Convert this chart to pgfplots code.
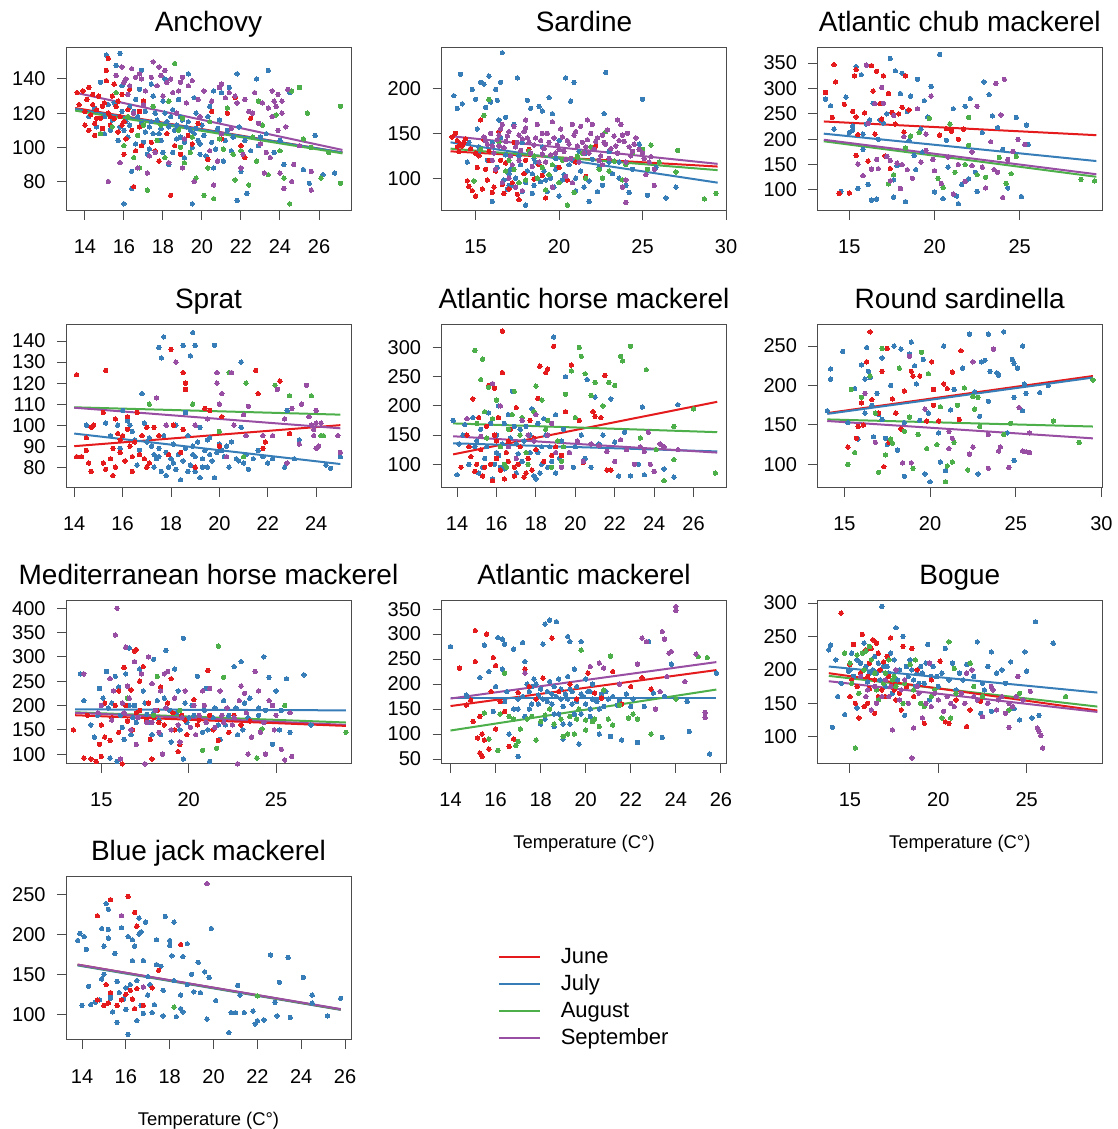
\documentclass[border=0pt]{standalone}
\usepackage{pgfplots}
\pgfplotsset{compat=1.18}
\usepackage{fontspec}
\setmainfont{Liberation Sans}
\definecolor{cJun}{HTML}{E41A1C}
\definecolor{cJul}{HTML}{377EB8}
\definecolor{cAug}{HTML}{4DAF4A}
\definecolor{cSep}{HTML}{984EA3}
\pgfplotsset{
 panel/.style={anchor=south west, scale only axis, width=142.5pt, height=81.75pt,
  axis line style={black!70, line width=0.5pt},
  every tick/.style={black!70, line width=0.5pt},
  major tick length=4.5pt, tick align=outside,
  xtick pos=left, ytick pos=left,
  /pgf/number format/assume math mode=true,
  tick label style={font=\fontsize{10}{12}\selectfont},
  xticklabel style={anchor=base, yshift=-17pt},
  yticklabel style={anchor=east, inner sep=0pt, xshift=-5.5pt},
  title style={at={(0.5,1)}, anchor=base, yshift=2pt, font=\fontsize{14}{16}\selectfont},
  xlabel style={at={(axis description cs:0.5,0)}, anchor=base, yshift=-42.5pt, font=\fontsize{9.2}{11}\selectfont},
 },
 jun/.style={only marks, mark=*, mark size=1.1pt, color=cJun, mark options={line width=0pt}},
 jul/.style={only marks, mark=*, mark size=1.1pt, color=cJul, mark options={line width=0pt}},
 aug/.style={only marks, mark=*, mark size=1.1pt, color=cAug, mark options={line width=0pt}},
 sep/.style={only marks, mark=*, mark size=1.1pt, color=cSep, mark options={line width=0pt}},
 ljun/.style={no marks, color=cJun, line width=1pt},
 ljul/.style={no marks, color=cJul, line width=1pt},
 laug/.style={no marks, color=cAug, line width=1pt},
 lsep/.style={no marks, color=cSep, line width=1pt},
 legline/.style={legend image code/.code={\draw[draw=#1, line width=0.8pt] (0pt,0pt) -- (20.5pt,0pt); \path[draw=none] (31pt,0pt) circle (0pt);}},
}
\begin{document}
\begin{tikzpicture}
\useasboundingbox (0,0) rectangle (559pt,564.5pt);
% ---------------- Anchovy
\begin{axis}[panel, at={(33pt,459pt)}, title={Anchovy}, xmin=13.03, xmax=27.64, ymin=62.8, ymax=158.4, xtick={14,16,...,26}, ytick={80,100,120,140}]
\addplot[jul] coordinates {(14.5,123)(14.8,138)(15.0,118)(15.1,154)(15.3,110)(15.5,126)(15.6,148)(15.8,155)(15.9,136)(16.0,67)(16.1,115)(16.2,106)(16.4,86)(16.4,76)(16.6,128)(16.7,118)(16.9,145)(17.0,103)(17.2,96)(17.3,112)(17.5,130)(17.6,120)(17.8,108)(18.0,97)(18.1,140)(18.2,115)(18.3,90)(18.5,122)(18.6,110)(18.7,105)(18.8,128)(18.9,100)(19.0,116)(19.1,94)(19.2,112)(19.3,143)(19.5,67)(19.6,108)(19.7,120)(19.9,102)(20.0,113)(20.2,95)(20.4,124)(20.6,88)(20.8,111)(21.0,132)(21.2,104)(21.5,98)(21.8,143)(21.8,69)(22.0,86)(22.3,73)(22.8,140)(23.0,106)(23.4,145)(24.2,90)(24.5,132)(25.2,87)(25.5,79)(25.8,107)(26.2,84)(26.8,85)(17.4,115)(18.4,118)(19.4,110)(17.9,111)(16.3,113)(15.8,112)(18.9,106)(19.8,104)(17.1,109)(16.5,121)
(14.2,118)(14.6,112)(15.0,108)(15.2,125)(15.4,116)(15.7,104)(15.9,121)(16.0,110)(16.3,124)(16.6,102)(16.9,114)(17.1,121)(17.3,99)(17.5,108)(17.7,116)(17.9,104)(18.1,120)(18.3,112)(18.5,97)(18.7,113)(18.9,118)(19.1,103)(19.3,115)(19.5,100)(19.7,111)(19.9,96)(20.1,107)(20.3,118)(20.5,103)(20.7,99)(20.9,116)(21.1,92)(21.3,110)(21.6,106)(21.9,112)(22.2,104)(22.5,98)(22.9,101)(23.3,108)(23.7,97)(24.0,104)(16.8,134)(17.4,137)(18.0,127)(19.6,129)(20.6,133)(21.4,135)};
\addplot[jun] coordinates {(13.6,132)(13.9,133)(14.1,128)(14.2,135)(14.4,125)(14.3,119)(14.5,114)(14.6,122)(14.7,130)(14.8,117)(14.9,111)(15.0,126)(15.1,139)(15.1,145)(15.2,152)(15.2,120)(15.3,113)(15.4,130)(15.5,137)(15.6,124)(15.7,109)(15.8,118)(15.9,131)(16.0,96)(16.1,105)(16.2,122)(16.3,134)(16.5,77)(16.6,98)(16.8,112)(17.0,127)(17.4,103)(17.8,92)(18.2,108)(18.4,72)(18.6,101)(18.9,96)(19.3,107)(19.8,114)(20.3,93)(20.5,121)(21.0,105)(21.3,120)(21.7,129)(22.0,101)(22.5,117)(22.2,94)(14.0,113)(14.8,108)(15.5,117)(16.8,121)
(13.7,125)(14.0,121)(14.2,110)(14.4,131)(14.6,117)(14.9,124)(15.3,118)(15.7,127)(16.0,115)(16.4,110)(16.9,101)(17.6,98)(18.8,110)(19.5,102)(14.5,107)(15.9,113)};
\addplot[aug] coordinates {(14.8,108)(15.2,80)(15.6,132)(16.0,101)(16.5,94)(16.8,88)(17.2,75)(17.5,124)(17.9,113)(18.3,127)(18.6,149)(18.9,100)(19.1,91)(19.4,97)(19.7,82)(20.1,72)(20.3,88)(20.6,70)(20.9,105)(21.3,123)(21.7,81)(22.0,98)(22.4,78)(22.6,106)(22.9,127)(23.4,84)(23.8,119)(24.2,82)(24.5,67)(24.6,133)(25.0,135)(25.4,120)(25.6,100)(26.1,82)(27.1,124)(27.1,79)(17.0,113)(19.0,117)
(15.4,112)(16.2,118)(16.7,107)(17.7,104)(18.1,94)(18.8,110)(19.5,106)(20.4,115)(21.1,99)(21.6,96)(22.8,92)(23.1,113)(24.0,98)(25.2,105)(26.5,97)};
\addplot[sep] coordinates {(15.2,80)(15.6,142)(16.0,138)(16.2,131)(16.4,146)(16.7,88)(16.9,140)(17.0,125)(17.3,95)(17.5,150)(17.7,136)(17.9,142)(18.1,145)(18.3,91)(18.5,132)(18.7,120)(18.9,138)(19.1,105)(19.3,136)(19.6,80)(19.8,128)(20.1,133)(20.4,98)(20.6,78)(20.9,135)(21.2,129)(21.5,111)(21.8,126)(22.1,96)(22.4,121)(22.7,132)(23.0,102)(23.3,97)(23.5,94)(23.6,133)(23.8,124)(23.9,110)(24.0,85)(24.1,120)(24.2,76)(24.4,134)(24.7,90)(25.0,101)(25.6,75)(25.6,86)(16.5,120)(17.6,97)(19.9,118)(21.0,108)(22.9,114)(23.7,127)(15.8,91)(16.6,141)(18.2,138)(19.0,141)(20.5,127)
(15.9,147)(16.1,140)(16.3,136)(16.8,143)(17.1,133)(17.4,141)(17.8,147)(18.0,130)(18.4,140)(18.8,133)(19.2,126)(19.5,139)(21.0,137)(21.4,132)(21.7,130)(22.2,128)(22.6,120)(23.1,126)(23.4,123)(23.6,118)(23.9,131)(24.1,127)(24.3,112)(22.0,88)(23.2,85)(24.6,80)(19.0,88)(17.2,85)(20.8,92)};
\addplot[ljun] coordinates {(13.5,123)(27.2,97)};
\addplot[ljul] coordinates {(13.5,122.5)(27.2,97)};
\addplot[laug] coordinates {(13.5,121.5)(27.2,96.5)};
\addplot[lsep] coordinates {(13.5,132)(27.2,98.5)};
\end{axis}
% ---------------- Sardine
\begin{axis}[panel, at={(220.75pt,459pt)}, title={Sardine}, xmin=12.96, xmax=30.03, ymin=63.4, ymax=245.9, xtick={15,20,25,30}, ytick={100,150,200}]
\addplot[jul] coordinates {(13.7,192)(13.9,178)(14.1,216)(14.2,183)(14.5,118)(14.8,199)(15.0,188)(15.1,155)(15.3,207)(15.5,205)(15.6,179)(15.8,214)(15.9,185)(16.0,74)(16.2,199)(16.3,187)(16.4,165)(16.5,207)(16.6,240)(16.7,98)(16.8,168)(17.0,105)(17.3,160)(17.5,212)(17.8,85)(18.0,70)(18.1,187)(18.3,178)(18.5,92)(18.8,180)(19.0,175)(19.2,98)(19.4,190)(19.6,172)(19.8,110)(20.0,80)(20.4,212)(20.7,186)(20.9,207)(21.2,130)(21.5,90)(21.8,74)(22.0,121)(22.3,85)(22.7,172)(22.8,218)(23.2,105)(23.6,118)(24.2,84)(24.8,138)(25.0,188)(25.3,81)(25.8,112)(26.4,78)(27.0,90)(17.6,125)(18.6,118)(19.8,122)(20.6,115)(16.0,140)(18.0,95)(21.0,100)(23.0,130)(24.4,110)(17.2,92)(19.3,85)(18.4,105)(20.2,98)(16.9,88)
(15.2,130)(15.7,120)(16.3,112)(16.8,126)(17.1,110)(17.4,100)(17.7,115)(18.1,108)(18.5,122)(18.9,96)(19.1,108)(19.5,100)(19.9,112)(20.3,104)(20.8,120)(21.3,108)(21.8,97)(22.4,112)(23.0,118)(23.6,100)(24.0,92)(17.0,92)(18.4,83)(19.7,90)(21.0,86)(22.6,92)(16.5,145)(17.8,140)(19.0,135)(20.0,142)(21.6,128)(14.6,140)(15.2,135)};
\addplot[jun] coordinates {(13.6,146)(13.9,142)(14.1,138)(14.3,140)(14.5,97)(14.6,91)(14.8,86)(15.0,80)(15.2,125)(15.3,165)(15.4,88)(15.6,110)(15.8,130)(16.0,84)(16.2,108)(16.4,152)(16.6,93)(16.8,117)(17.0,88)(17.3,140)(17.6,76)(17.9,105)(18.2,132)(18.5,99)(18.8,115)(19.2,78)(19.5,126)(20.0,112)(20.5,98)(21.0,118)(21.6,102)(22.2,136)(13.8,150)(14.2,136)(15.5,143)(16.5,120)(17.5,82)(19.0,103)
(14.0,130)(14.4,144)(14.7,133)(15.0,128)(15.1,112)(15.7,98)(16.1,90)(16.7,83)(17.2,95)(18.0,120)(13.9,135)(15.8,120)};
\addplot[aug] coordinates {(14.9,97)(15.5,170)(15.8,188)(16.4,140)(17.0,120)(17.6,95)(18.2,130)(18.7,100)(19.2,87)(19.6,115)(20.0,95)(20.5,70)(20.9,84)(21.4,128)(21.9,135)(22.4,110)(22.8,152)(23.3,119)(23.8,98)(24.4,128)(25.0,132)(25.5,137)(26.0,118)(27.1,131)(27.0,107)(28.7,77)(29.4,83)(16.8,108)(19.0,112)(22.6,100)
(15.3,132)(16.1,128)(17.3,110)(18.5,125)(19.4,104)(20.2,120)(21.1,125)(21.6,100)(23.0,108)(24.0,115)(25.3,110)(18.0,98)};
\addplot[sep] coordinates {(15.5,146)(15.7,138)(15.9,150)(16.1,128)(16.3,143)(16.5,155)(16.7,134)(16.9,147)(17.1,125)(17.3,158)(17.5,140)(17.7,131)(17.9,152)(18.1,145)(18.3,128)(18.5,137)(18.7,160)(18.9,142)(19.1,133)(19.3,150)(19.5,126)(19.7,145)(19.9,137)(20.1,155)(20.3,130)(20.5,142)(20.7,122)(20.9,148)(21.1,136)(21.3,158)(21.5,128)(21.7,143)(21.9,150)(22.1,132)(22.3,145)(22.5,125)(22.7,140)(22.9,154)(23.1,133)(23.3,147)(23.5,128)(23.7,160)(23.9,141)(24.1,150)(24.3,125)(24.5,138)(24.8,132)(25.1,122)(25.4,118)(25.7,110)(16.2,110)(16.6,95)(17.0,100)(17.4,90)(17.8,86)(18.4,113)(19.6,90)(20.4,102)(20.8,95)(23.8,90)(24.0,98)(24.0,73)(25.7,92)(25.2,104)(16.0,120)(17.2,115)(18.8,118)(21.2,118)(22.6,115)(16.4,136)(17.6,148)(18.2,140)(19.0,127)(20.0,132)(21.6,135)(22.8,138)(23.6,142)(24.2,135)
(15.6,142)(16.0,136)(16.4,148)(16.8,141)(17.0,152)(17.4,135)(17.8,144)(18.0,156)(18.6,145)(19.0,150)(19.4,140)(19.8,128)(20.2,146)(20.6,138)(21.0,152)(21.4,140)(21.8,128)(22.2,141)(22.6,148)(23.0,122)(23.4,136)(23.8,148)(24.4,130)(24.6,145)(25.0,128)(25.5,124)(17.6,120)(19.2,118)(20.4,121)(22.4,120)(24.0,118)(18.0,165)(19.6,163)(21.7,165)(23.5,165)(16.6,160)(20.8,160)(22.0,160)};
\addplot[ljun] coordinates {(13.5,130)(29.5,113)};
\addplot[ljul] coordinates {(13.5,140)(29.5,95)};
\addplot[laug] coordinates {(13.5,133)(29.5,109)};
\addplot[lsep] coordinates {(13.5,147)(29.5,116)};
\end{axis}
% ---------------- Atlantic chub mackerel
\begin{axis}[panel, at={(408.65pt,459pt)}, title={Atlantic chub mackerel}, xmin=13.12, xmax=29.85, ymin=58.6, ymax=380.8, xtick={15,20,25,30}, ytick={100,150,...,350}]
\addplot[jul] coordinates {(13.6,279)(13.9,266)(14.1,220)(14.5,97)(14.8,283)(15.0,213)(15.2,226)(15.4,343)(15.5,103)(15.7,327)(15.8,180)(16.0,230)(16.1,111)(16.3,80)(16.4,271)(16.6,82)(16.7,200)(16.8,238)(17.0,232)(17.2,250)(17.4,359)(17.6,86)(17.7,335)(17.8,148)(18.0,290)(18.1,330)(18.3,77)(18.5,197)(18.6,285)(18.8,168)(19.0,318)(19.2,220)(19.4,276)(19.6,244)(19.8,304)(20.0,96)(20.3,367)(20.5,83)(20.7,198)(21.1,260)(21.3,88)(21.4,73)(21.6,111)(21.8,265)(22.1,280)(22.4,135)(22.5,97)(22.8,213)(22.9,313)(23.2,288)(23.4,246)(23.7,223)(24.0,180)(24.3,104)(24.8,243)(25.1,87)(25.4,228)(25.5,190)(17.6,120)(19.3,175)(20.8,145)(18.9,140)(15.8,210)(22.0,122)(16.2,238)(18.4,255)(15.2,218)};
\addplot[jun] coordinates {(13.6,292)(14.1,347)(14.2,313)(14.0,243)(14.4,93)(14.7,269)(15.0,94)(15.2,255)(15.3,325)(15.4,337)(15.4,244)(15.4,168)(15.5,209)(15.9,252)(16.1,157)(16.3,345)(16.4,295)(16.6,334)(16.5,210)(16.8,270)(17.0,325)(17.1,167)(17.3,290)(17.4,142)(17.7,230)(17.9,250)(18.1,263)(18.3,325)(18.5,258)(18.2,214)(20.3,208)(20.7,221)(21.0,216)(21.4,200)(21.7,220)(17.5,253)(16.9,240)};
\addplot[aug] coordinates {(17.6,130)(18.3,183)(18.6,206)(19.1,213)(19.7,241)(20.2,123)(20.5,105)(20.9,230)(21.2,135)(21.8,150)(22.0,243)(22.0,188)(22.5,130)(23.0,125)(23.8,164)(24.2,113)(24.5,132)(24.8,166)(28.6,121)(29.4,118)(17.3,112)};
\addplot[sep] coordinates {(15.5,151)(15.8,128)(16.0,346)(16.1,231)(16.3,141)(16.5,270)(16.6,160)(16.9,302)(17.0,271)(17.2,166)(17.4,118)(17.6,247)(17.8,153)(18.0,103)(18.2,205)(18.4,140)(18.7,123)(19.0,260)(19.2,155)(19.5,178)(19.8,285)(20.0,138)(20.4,113)(20.8,165)(21.1,92)(21.4,150)(21.8,117)(22.2,175)(22.5,265)(22.8,145)(23.0,104)(23.3,195)(23.5,140)(23.6,310)(23.9,248)(24.0,85)(24.1,318)(24.3,160)(24.6,176)(24.9,200)(25.3,190)(19.5,210)(16.7,142)(17.4,158)(22.2,148)(18.1,150)(19.9,160)(23.7,135)};
\addplot[ljun] coordinates {(13.5,235)(29.5,208)};
\addplot[ljul] coordinates {(13.5,211)(29.5,157)};
\addplot[laug] coordinates {(13.5,196)(29.5,126)};
\addplot[lsep] coordinates {(13.5,199)(29.5,131)};
\end{axis}
% ---------------- Sprat
\begin{axis}[panel, at={(33pt,320.5pt)}, title={Sprat}, xmin=13.66, xmax=25.44, ymin=70.1, ymax=147.9, xtick={14,16,...,24}, ytick={80,90,...,140}]
\addplot[jul] coordinates {(17.5,137)(17.6,132)(17.7,142)(18.5,138)(18.9,144)(18.8,133)(19.0,138)(19.8,138)(20.9,130)(16.8,115)(18.6,106)(22.8,107)(24.6,79.5)(25,85)(24.4,81)(14.5,100)(15.3,101)(15.5,95)(15.8,100)(16.0,107)(16.2,102)(16.3,100)(16.5,93)(16.7,88)(16.9,101)(17.1,94)(17.2,90)(17.3,86)(17.4,84)(17.5,89)(17.6,78)(17.7,95)(17.8,76)(17.9,80)(18.0,84)(18.1,91)(18.2,79)(18.3,86)(18.4,74)(18.5,83)(18.6,89)(18.7,95)(18.8,81)(18.9,86)(19.0,78)(19.1,92)(19.2,75)(19.3,84)(19.4,88)(19.5,80)(19.6,94)(19.7,83)(19.8,75)(19.9,87)(20.0,91)(20.2,85)(20.4,80)(20.5,92)(20.7,84)(20.9,99)(21.0,82)(21.2,79)(21.4,84)(21.6,88)(21.8,85)(22.0,82)(22.2,84)(22.7,80)(23.3,93)(23.1,84)(16.4,97)(17.0,92)(18.2,100)(19.2,99)(20.1,88)(18.9,90)(19.5,93)(17.8,87)(16.6,81)(15.9,89)(18.4,87)(19.0,85)(19.3,80)(17.5,85)(20.8,83)(18.1,82)(18.7,78)(19.6,86)(20.3,90)(21.1,86)(17.3,80)};
\addplot[jun] coordinates {(14.1,124)(14.1,85)(14.3,85)(14.5,94)(14.5,88)(14.6,82)(14.7,99)(14.7,78)(14.8,100)(15.2,106)(15.2,82)(15.3,126)(15.3,79)(15.5,84)(15.6,76)(15.6,89)(15.7,103)(15.7,80)(15.8,96)(15.9,93)(15.9,87)(16.0,95)(16.1,83)(16.2,104)(16.2,98)(16.3,90)(16.4,85)(16.4,78)(16.5,92)(16.6,106)(16.7,86)(16.8,95)(16.9,84)(17.0,99)(17.0,80)(17.1,82)(17.3,99)(17.5,95)(17.9,86)(18.0,136)(18.1,100)(18.5,98)(18.5,125)(18.6,120)(18.6,117)(19.0,80)(19.4,108)(19.6,107)(20.1,104)(21.5,126)(21.6,115)(21.8,89)(21.9,92)(22.5,121)(22.9,96)(20.0,90)(18.4,87)};
\addplot[aug] coordinates {(17.1,110)(18.9,110)(20.0,97)(20.4,125)(21.1,120)(21.0,85)(22.3,119)(22.9,114)(23.8,114)(24.2,95)(24.3,95)};
\addplot[sep] coordinates {(17.4,113)(17.8,100)(18.2,130)(19.0,100)(19.5,103)(19.9,125)(19.9,120)(20.1,115)(20.0,110)(20.5,125)(20.6,100)(21.0,105)(21.1,95)(21.2,109)(22.2,95)(22.4,117)(22.7,103)(22.8,82)(23.0,108)(23.3,91)(23.4,110)(23.6,119)(23.7,104)(23.8,100)(23.9,95)(24.0,101)(24.0,107)(24.0,89)(24.1,90)(24.9,95)(25.0,87)(24.2,101)(23.9,98)(21.8,95)(20.3,85)};
\addplot[ljun] coordinates {(14,90)(25,100)};
\addplot[ljul] coordinates {(14,96)(25,81.5)};
\addplot[laug] coordinates {(14,108.5)(25,105)};
\addplot[lsep] coordinates {(14,108.3)(25,98.5)};
\end{axis}
% ---------------- Atlantic horse mackerel
\begin{axis}[panel, at={(220.75pt,320.5pt)}, title={Atlantic horse mackerel}, xmin=13.21, xmax=27.67, ymin=59.4, ymax=339.4, xtick={14,16,...,26}, ytick={100,150,...,300}]
\addplot[jul] coordinates {(13.8,175)(14.0,82)(14.1,135)(14.4,168)(14.6,100)(14.8,180)(15.0,140)(15.2,160)(15.4,110)(15.6,188)(15.8,75)(16.0,150)(16.1,200)(16.2,95)(16.4,170)(16.5,120)(16.8,225)(17.0,85)(17.2,160)(17.4,140)(17.6,100)(17.8,195)(18.0,75)(18.1,170)(18.3,130)(18.6,95)(18.9,318)(19.0,185)(19.3,140)(19.5,250)(19.7,120)(20.0,130)(20.3,150)(20.6,245)(20.8,95)(21.0,215)(21.4,150)(21.8,212)(22.0,138)(22.2,80)(22.5,155)(22.8,80)(23.2,100)(23.4,198)(23.5,82)(24.5,92)(25.0,78)(25.2,202)(15.5,130)(16.7,145)(17.5,165)(18.5,150)(19.2,110)(18.2,85)(17.1,118)(16.3,135)(15.9,100)(16.9,95)(17.7,120)(18.8,105)
(14.3,150)(14.9,130)(15.3,95)(15.7,170)(16.1,115)(16.4,92)(16.6,185)(17.3,105)(17.7,150)(18.1,120)(18.4,178)(18.7,130)(19.4,160)(19.9,95)(20.5,110)(21.2,135)(16.0,120)(17.0,135)(15.1,85)(17.9,80)(19.0,85)(18.3,100)(16.9,165)};
\addplot[jun] coordinates {(14.2,95)(14.5,150)(14.7,113)(14.8,212)(14.9,88)(15.2,125)(15.3,80)(15.5,165)(15.6,235)(15.7,100)(15.8,72)(15.9,230)(16.0,140)(16.1,180)(16.2,90)(16.3,328)(16.3,257)(16.4,75)(16.5,120)(16.7,160)(16.9,95)(17.0,197)(17.2,130)(17.4,78)(17.6,110)(17.9,145)(18.1,213)(18.2,268)(18.4,105)(18.5,257)(18.6,263)(18.9,302)(19.0,130)(19.3,115)(19.5,190)(19.8,270)(20.2,175)(20.4,103)(20.9,190)(21.0,182)(21.3,180)(21.5,252)(21.6,90)(21.8,90)(15.0,100)(16.6,105)(17.8,90)
(14.6,130)(15.1,180)(15.4,95)(16.0,110)(16.6,140)(17.1,100)(17.5,85)(18.0,125)(18.8,115)(15.9,150)(17.7,175)(16.9,80)};
\addplot[aug] coordinates {(14.9,295)(15.2,245)(15.3,280)(15.4,190)(15.6,232)(15.8,178)(16.0,210)(16.4,100)(16.6,160)(16.9,225)(17.3,180)(17.5,120)(18.0,234)(18.3,210)(18.5,160)(19.3,105)(19.5,220)(19.8,260)(20.2,300)(20.3,285)(20.5,255)(20.8,218)(21.0,240)(21.4,200)(21.7,240)(22.0,235)(22.3,285)(22.4,277)(22.8,302)(23.3,145)(23.6,262)(24.1,125)(24.5,72)(25.0,108)(26.0,195)(27.1,85)(25.0,165)(20.0,180)(18.8,95)(19.1,140)
(15.0,170)(15.5,145)(16.2,130)(16.8,185)(17.2,150)(17.9,190)(18.6,175)(19.4,130)(16.5,95)(17.6,100)};
\addplot[sep] coordinates {(14.5,178)(15.2,148)(15.8,238)(16.2,200)(16.6,130)(17.0,110)(17.3,175)(17.6,150)(18.0,185)(18.6,150)(19.0,120)(19.3,95)(19.7,120)(20.1,140)(20.4,105)(20.8,135)(21.2,132)(21.6,122)(22.0,105)(22.3,142)(22.6,125)(23.0,100)(23.3,130)(23.5,122)(23.7,155)(23.8,100)(24.0,88)(24.3,135)(24.5,130)(25.2,125)(18.8,170)(17.9,140)};
\addplot[ljun] coordinates {(13.8,117)(27.2,207)};
\addplot[ljul] coordinates {(13.8,136)(27.2,122)};
\addplot[laug] coordinates {(13.8,170)(27.2,155)};
\addplot[lsep] coordinates {(13.8,148)(27.2,120)};
\end{axis}
% ---------------- Round sardinella
\begin{axis}[panel, at={(408.65pt,320.5pt)}, title={Round sardinella}, xmin=13.42, xmax=30.05, ymin=70.1, ymax=277.3, xtick={15,20,25,30}, ytick={100,150,200,250}]
\addplot[jul] coordinates {(14.0,168)(14.2,221)(14.2,208)(14.9,243)(15.2,153)(15.6,196)(15.8,132)(16.0,226)(16.2,208)(16.2,165)(16.3,248)(16.4,218)(16.5,210)(16.6,175)(16.7,135)(16.9,190)(17.0,163)(17.2,235)(17.4,133)(17.7,200)(17.9,250)(18.0,165)(18.1,118)(18.3,246)(18.5,153)(18.8,240)(18.9,255)(19.1,225)(19.2,202)(19.4,156)(19.6,233)(19.7,88)(19.9,165)(20.0,78)(20.5,140)(20.6,103)(20.8,250)(20.9,92)(21.2,169)(21.4,195)(21.9,222)(22.3,265)(22.6,192)(22.8,88)(22.9,161)(23.0,230)(23.2,232)(23.4,265)(23.5,218)(23.9,216)(24.0,213)(24.3,268)(24.5,140)(24.8,233)(24.9,228)(24.9,185)(25.1,222)(25.4,250)(25.5,202)(25.6,190)(26.4,191)(26.9,200)(24.9,105)(18.5,85)(17.2,157)(21.6,175)(23.4,180)(25.4,168)(17.5,125)};
\addplot[jun] coordinates {(15.2,122)(15.7,133)(15.8,148)(16.0,178)(16.3,230)(16.5,268)(16.6,182)(17.0,165)(17.2,218)(17.3,97)(17.5,247)(17.6,128)(17.8,183)(18.0,165)(18.3,145)(18.5,193)(18.9,218)(19.0,212)(19.4,212)(19.8,155)(20.1,230)(20.2,195)(20.5,155)(20.8,202)(21.0,196)(21.3,217)(21.8,244)(21.7,157)(16.1,150)(20.2,175)};
\addplot[aug] coordinates {(15.2,100)(15.4,195)(15.6,115)(16.0,185)(16.5,212)(17.0,90)(17.2,247)(17.4,112)(17.8,127)(18.2,222)(18.5,142)(19.0,95)(19.3,138)(19.5,242)(19.8,120)(19.9,215)(20.4,125)(20.6,173)(20.9,78)(21.0,98)(21.3,103)(21.6,175)(22.0,197)(22.2,93)(22.5,186)(22.6,170)(22.8,185)(22.9,148)(24.3,138)(24.7,152)(27.2,155)(28.7,128)(29.5,207)(16.8,165)(18.8,160)(21.4,128)(17.7,132)};
\addplot[sep] coordinates {(16.2,190)(16.8,128)(18.4,102)(18.8,237)(18.9,102)(19.7,170)(21.1,120)(21.1,142)(21.3,133)(22.3,113)(22.5,230)(22.5,122)(23.4,138)(23.4,95)(23.7,246)(24.0,117)(24.1,122)(24.6,96)(25.2,172)(25.4,117)(25.6,116)(25.8,115)(25.8,140)};
\addplot[ljun] coordinates {(14,165)(29.5,212)};
\addplot[ljul] coordinates {(14,164)(29.5,210)};
\addplot[laug] coordinates {(14,157)(29.5,148)};
\addplot[lsep] coordinates {(14,155)(29.5,133)};
\end{axis}
% ---------------- Mediterranean horse mackerel
\begin{axis}[panel, at={(33pt,182.5pt)}, title={Mediterranean horse mackerel}, xmin=12.98, xmax=29.29, ymin=79.7, ymax=415.9, xtick={15,20,25}, ytick={100,150,...,400}]
\addplot[jul] coordinates {(13.8,265)(14.0,210)(14.2,180)(14.4,160)(14.6,135)(14.9,235)(15.1,215)(15.3,270)(15.5,92)(15.6,205)(15.8,260)(15.9,85)(16.0,238)(16.2,155)(16.4,265)(16.6,318)(16.7,140)(16.9,200)(17.2,275)(17.4,230)(17.6,182)(17.8,165)(18.0,295)(18.2,210)(18.4,140)(18.7,313)(18.9,190)(19.0,125)(19.2,275)(19.4,230)(19.7,338)(19.7,90)(19.9,165)(20.2,200)(20.5,260)(20.8,145)(21.0,235)(21.2,85)(21.5,195)(21.7,160)(21.8,130)(22.0,210)(22.3,180)(22.6,280)(22.8,140)(23.0,290)(23.2,205)(23.5,215)(23.8,270)(24.0,180)(24.3,300)(24.6,258)(24.8,120)(25.0,230)(25.2,150)(25.6,255)(25.8,145)(26.6,263)(27.0,160)(25.6,78)(18.0,185)(20.0,175)(16.8,175)(24.0,195)
(14.8,180)(15.4,195)(16.1,180)(16.6,200)(17.0,165)(17.5,205)(18.3,170)(18.6,215)(19.3,185)(19.8,205)(20.3,180)(20.9,190)(21.4,175)(22.1,160)(22.7,195)(23.4,175)(24.4,190)(25.3,190)(16.3,130)(17.9,140)(19.5,150)(21.1,150)(23.1,150)};
\addplot[jun] coordinates {(13.4,150)(14.0,92)(14.4,90)(14.7,85)(14.9,120)(15.0,95)(15.2,135)(15.3,78)(15.5,128)(15.8,200)(16.0,145)(16.2,80)(16.3,278)(16.5,168)(16.7,232)(16.9,312)(17.0,315)(17.2,250)(17.4,280)(17.6,170)(17.8,130)(17.9,90)(18.2,190)(18.4,238)(18.6,160)(18.8,205)(19.0,255)(19.2,150)(19.4,105)(19.6,180)(19.9,140)(20.3,212)(20.6,170)(20.9,200)(21.1,272)(21.4,150)(21.7,128)(22.0,165)(22.3,145)(22.6,180)(23.0,160)(23.5,168)(16.0,230)(17.2,190)(18.0,175)(19.5,120)
(14.2,180)(15.0,160)(15.6,175)(16.4,200)(17.0,185)(17.7,205)(18.3,165)(19.1,185)(19.8,170)(20.5,160)(21.2,180)(15.2,205)(16.8,150)};
\addplot[aug] coordinates {(16.5,215)(18.2,260)(19.5,190)(20.8,108)(21.6,112)(21.7,322)(22.0,258)(23.9,92)(24.2,152)(25.5,200)(29.0,145)(18.0,180)};
\addplot[sep] coordinates {(14.0,265)(14.8,185)(15.5,255)(15.7,230)(15.8,345)(15.9,400)(16.1,90)(16.2,205)(16.4,320)(16.5,240)(16.7,150)(16.9,290)(17.0,120)(17.3,265)(17.5,80)(17.7,300)(17.9,245)(18.1,190)(18.3,145)(18.5,100)(18.6,265)(18.8,270)(19.0,150)(19.2,215)(19.5,125)(19.8,230)(20.1,155)(20.4,140)(20.6,180)(20.9,200)(21.2,235)(21.5,155)(21.8,230)(22.2,195)(22.5,160)(22.8,80)(23.0,240)(23.2,225)(23.4,100)(23.6,135)(23.8,270)(24.0,230)(24.1,145)(24.4,100)(24.6,210)(24.9,150)(25.3,110)(25.5,88)(25.9,95)(25.8,185)(19.6,175)(17.6,165)(22.0,165)
(15.0,200)(15.6,170)(16.3,185)(17.1,175)(17.9,165)(18.7,195)(19.4,160)(20.3,200)(21.0,165)(21.9,180)(22.6,175)(23.3,185)(24.3,165)(25.0,180)(16.6,215)(18.4,230)(20.8,230)(22.9,210)(24.8,200)};
\addplot[ljul] coordinates {(13.5,192)(29,190)};
\addplot[laug] coordinates {(13.5,186)(29,165)};
\addplot[lsep] coordinates {(13.5,185)(29,160)};
\addplot[ljun] coordinates {(13.5,180)(29,158)};
\end{axis}
% ---------------- Atlantic mackerel
\begin{axis}[panel, at={(220.75pt,182.5pt)}, title={Atlantic mackerel}, xlabel={Temperature (C°)}, xmin=13.6, xmax=26.25, ymin=40, ymax=367.3, xtick={14,16,...,26}, ytick={50,100,...,350}]
\addplot[jul] coordinates {(14.0,275)(14.7,178)(15.3,213)(15.5,278)(15.7,225)(15.9,145)(16.0,195)(16.1,293)(16.3,290)(16.4,280)(16.3,230)(16.6,100)(16.8,270)(17.0,55)(17.2,283)(17.3,245)(17.5,150)(17.7,210)(17.9,178)(18.1,280)(18.2,320)(18.4,328)(18.6,195)(18.7,325)(18.8,140)(19.0,90)(19.2,295)(19.3,285)(19.5,230)(19.7,80)(19.8,285)(20.0,210)(20.2,150)(20.4,130)(20.6,100)(20.9,185)(21.1,95)(21.4,158)(21.6,88)(21.8,180)(22.3,83)(22.6,155)(22.8,285)(23.0,182)(23.4,93)(23.8,240)(24.5,165)(24.6,105)(25.5,60)(25.8,222)(17.0,170)(17.6,160)(18.0,190)(18.4,205)(18.9,170)(19.1,180)(19.4,160)(19.6,195)(19.9,175)(18.2,130)(18.6,115)(19.0,120)(20.3,170)(16.8,150)(17.3,135)(21.0,170)(20.6,150)(22.1,170)(23.5,175)(18.3,165)(19.8,140)(17.8,200)(16.5,185)(18.5,180)(19.3,190)(20.1,185)(17.5,185)
(17.2,175)(17.6,195)(17.9,160)(18.1,170)(18.3,185)(18.5,160)(18.7,175)(18.9,190)(19.0,155)(19.2,170)(19.4,185)(19.6,165)(19.8,180)(20.0,160)(20.2,185)(20.5,165)(20.7,180)(21.2,175)(21.5,165)(18.6,140)(19.5,140)(20.2,135)(17.0,150)(18.0,120)(19.3,120)(20.8,155)(22.0,155)(16.4,165)(17.4,200)(18.8,210)(19.2,215)(20.3,200)};
\addplot[jun] coordinates {(14.4,232)(14.7,158)(14.9,168)(15.1,245)(15.1,307)(15.2,92)(15.3,62)(15.4,55)(15.5,88)(15.6,300)(15.7,70)(15.8,185)(15.9,253)(16.0,237)(16.0,110)(16.2,165)(16.4,145)(16.6,75)(16.8,90)(17.0,183)(17.3,230)(17.5,195)(17.8,170)(18.1,212)(18.5,292)(18.8,185)(19.3,200)(19.6,170)(20.1,222)(20.4,182)(20.7,172)(21.2,225)(21.6,160)(22.0,195)(22.5,213)(22.9,190)(15.3,135)(15.0,125)(15.4,100)};
\addplot[aug] coordinates {(15.5,142)(15.7,90)(16.1,67)(16.4,222)(16.6,135)(16.9,77)(17.0,85)(17.4,130)(17.8,88)(18.2,138)(18.6,120)(19.0,95)(19.3,135)(19.5,100)(19.8,268)(20.0,128)(20.3,125)(20.6,115)(20.8,188)(21.0,130)(21.1,256)(21.5,158)(21.9,132)(22.3,130)(22.9,100)(24.0,170)(25.0,255)(25.4,253)(18.4,150)(19.7,150)
(16.8,130)(17.6,135)(18.0,125)(18.9,130)(19.6,130)(20.4,130)(21.2,118)(22.1,140)(16.2,140)(17.1,110)(19.2,100)(20.0,108)};
\addplot[sep] coordinates {(17.3,222)(20.2,235)(20.6,242)(20.8,232)(21.5,200)(22.3,240)(22.5,292)(22.7,285)(23.1,150)(23.4,305)(23.5,290)(23.6,215)(23.7,262)(23.8,265)(24.0,355)(24.0,347)(24.4,205)(24.9,260)(25.3,143)(25.3,133)(23.3,185)};
\addplot[ljun] coordinates {(14,156)(25.8,228)};
\addplot[ljul] coordinates {(14,173)(25.8,173)};
\addplot[laug] coordinates {(14,107)(25.8,189)};
\addplot[lsep] coordinates {(14,171)(25.8,244)};
\end{axis}
% ---------------- Bogue
\begin{axis}[panel, at={(408.65pt,182.5pt)}, title={Bogue}, xlabel={Temperature (C°)}, xmin=13.15, xmax=29.28, ymin=59, ymax=303.9, xtick={15,20,25}, ytick={100,150,...,300}]
\addplot[jul] coordinates {(13.8,230)(13.9,237)(14.0,114)(14.2,215)(14.3,160)(14.5,180)(14.7,133)(14.9,198)(15.1,225)(15.4,143)(15.6,210)(15.8,240)(16.0,182)(16.2,215)(16.5,195)(16.8,295)(17.0,175)(17.3,225)(17.6,263)(17.8,200)(18.0,250)(18.1,132)(18.4,215)(18.6,185)(18.8,195)(19.0,205)(19.2,180)(19.4,238)(19.7,205)(20.0,175)(20.4,232)(20.8,210)(21.2,195)(21.6,208)(22.0,190)(22.2,242)(22.5,180)(22.8,205)(23.0,227)(23.3,195)(23.6,200)(24.1,212)(24.3,142)(24.6,125)(24.9,227)(25.0,198)(25.3,128)(25.5,272)(25.7,132)(26.5,240)(17.4,165)(18.3,190)(19.5,155)(16.6,210)(21.0,170)(23.0,138)(22.4,135)(15.2,190)(16.3,200)(17.1,205)(18.9,180)(19.9,190)
(15.0,200)(15.4,215)(15.9,205)(16.1,195)(16.4,220)(16.7,185)(16.9,205)(17.2,195)(17.5,215)(17.7,185)(18.2,205)(18.5,200)(18.7,175)(19.1,195)(19.3,210)(19.6,190)(20.2,195)(20.6,185)(21.4,185)(22.6,170)(23.8,180)};
\addplot[jun] coordinates {(14.5,285)(15.0,160)(15.0,208)(15.2,238)(15.3,150)(15.5,128)(15.7,253)(15.8,145)(15.9,230)(16.0,150)(16.1,172)(16.2,232)(16.3,245)(16.4,135)(16.5,240)(16.6,160)(16.7,200)(16.9,212)(17.0,160)(17.3,248)(17.5,170)(17.6,155)(17.9,140)(18.0,235)(18.3,150)(18.5,232)(18.8,200)(19.2,120)(19.6,185)(20.1,213)(20.4,122)(20.6,120)(21.0,155)(21.6,115)(21.8,140)(22.4,153)(16.0,190)(17.2,190)
(15.4,175)(15.6,195)(16.1,210)(16.4,185)(16.8,170)(17.1,220)(17.4,180)(17.8,165)(18.2,175)(18.6,160)(15.1,185)(16.6,225)};
\addplot[aug] coordinates {(14.7,225)(15.0,210)(15.3,83)(15.5,165)(15.7,225)(15.9,228)(16.1,235)(16.4,195)(16.6,155)(16.9,180)(17.2,215)(17.6,175)(18.0,150)(18.4,208)(18.7,215)(19.2,145)(19.6,160)(20.2,128)(20.6,242)(20.7,128)(20.9,202)(21.8,210)(22.0,175)(24.0,140)(24.6,165)(27.2,160)(15.4,222)(17.4,185)
(15.1,180)(15.8,200)(16.2,215)(16.5,170)(17.0,195)(17.5,190)(18.1,180)(18.6,170)(19.0,150)(19.8,170)(21.0,165)(22.5,160)};
\addplot[sep] coordinates {(15.6,190)(15.9,160)(16.2,140)(16.4,175)(16.8,160)(17.0,185)(17.4,110)(17.6,200)(17.9,170)(18.3,150)(18.5,68)(18.6,113)(18.8,175)(19.1,128)(19.3,150)(19.5,210)(19.8,165)(20.3,138)(20.5,160)(20.9,145)(21.3,165)(21.6,195)(21.9,200)(22.2,155)(22.5,130)(22.8,150)(23.1,170)(23.3,140)(23.6,160)(23.8,135)(24.0,114)(24.2,145)(24.5,190)(24.8,155)(25.2,168)(25.6,113)(25.7,108)(25.8,102)(25.9,83)(23.0,175)(20.0,155)(17.2,160)
(16.0,170)(16.5,150)(17.3,175)(17.8,155)(18.1,185)(18.9,165)(19.6,145)(20.7,150)(21.5,150)(22.0,160)(23.4,155)(24.0,150)(24.4,160)};
\addplot[ljul] coordinates {(13.8,205)(29,166)};
\addplot[laug] coordinates {(13.8,191)(29,145)};
\addplot[ljun] coordinates {(13.8,195)(29,139)};
\addplot[lsep] coordinates {(13.8,183)(29,137)};
\end{axis}
% ---------------- Blue jack mackerel
\begin{axis}[panel, at={(33pt,44.5pt)}, title={Blue jack mackerel}, xlabel={Temperature (C°)}, xmin=13.27, xmax=26.27, ymin=67.9, ymax=272, xtick={14,16,...,26}, ytick={100,150,200,250}]
\addplot[jul] coordinates {(13.8,192)(13.9,201)(14.0,111)(14.1,197)(14.2,181)(14.3,135)(14.4,112)(14.6,115)(14.8,118)(14.9,207)(15.0,185)(15.0,150)(15.1,238)(15.2,231)(15.2,206)(15.2,195)(15.3,120)(15.4,103)(15.5,176)(15.6,90)(15.6,141)(15.7,127)(15.8,208)(15.9,119)(16.0,106)(16.1,197)(16.1,75)(16.2,137)(16.3,167)(16.3,193)(16.4,185)(16.5,142)(16.5,92)(16.6,220)(16.6,200)(16.7,203)(16.8,167)(16.8,101)(16.9,215)(17.0,124)(17.1,137)(17.2,102)(17.3,112)(17.4,193)(17.4,162)(17.6,160)(17.7,98)(17.8,222)(18.0,192)(18.0,186)(18.1,173)(18.2,215)(18.2,142)(18.3,97)(18.5,107)(18.6,172)(18.6,103)(18.8,188)(18.8,137)(19.0,150)(19.1,128)(19.3,165)(19.4,127)(19.6,153)(19.7,94)(19.8,146)(19.9,207)(20.1,117)(20.7,77)(20.8,102)(21.0,102)(21.1,136)(21.2,124)(21.4,102)(21.8,104)(21.9,88)(22.0,92)(22.3,93)(22.6,174)(22.8,115)(22.9,98)(23.0,140)(23.4,171)(23.5,96)(24.1,146)(24.5,124)(24.5,114)(25.2,98)(25.8,120)(17.0,147)(16.0,133)(15.3,125)(18.5,124)(17.7,130)(14.9,144)(16.7,111)};
\addplot[jun] coordinates {(14.7,223)(14.7,118)(15.0,111)(15.1,137)(15.2,114)(15.3,127)(15.3,243)(15.6,111)(15.8,118)(16.0,125)(16.1,247)(16.2,130)(16.3,119)(16.4,107)(16.4,227)(16.5,210)(16.5,132)(16.8,111)(17.2,133)(17.5,155)(18.5,187)};
\addplot[aug] coordinates {(18.2,109)(22.0,123)};
\addplot[sep] coordinates {(15.8,223)(16.8,134)(19.7,263)};
\addplot[ljul] coordinates {(13.8,161)(25.8,105.5)};
\addplot[ljun] coordinates {(13.8,162)(25.8,106)};
\addplot[laug] coordinates {(13.8,161.5)(25.8,106)};
\addplot[lsep] coordinates {(13.8,162)(25.8,106.5)};
\end{axis}
% ---------------- Legend
\begin{axis}[anchor=north west, at={(249pt,90.85pt)}, scale only axis, width=100pt, height=60pt, hide axis, xmin=0, xmax=1, ymin=0, ymax=1,
  legend style={at={(0,1)}, anchor=north west, draw=none, fill=none, inner sep=0pt, outer sep=0pt, row sep=3.5pt, column sep=0pt,
   font=\fontsize{11}{13}\selectfont, nodes={inner sep=0pt, text height=8pt, text depth=2pt}},
  legend cell align=left]
\addlegendimage{legline=cJun}\addlegendentry{June}
\addlegendimage{legline=cJul}\addlegendentry{July}
\addlegendimage{legline=cAug}\addlegendentry{August}
\addlegendimage{legline=cSep}\addlegendentry{September}
\end{axis}
\end{tikzpicture}
\end{document}
